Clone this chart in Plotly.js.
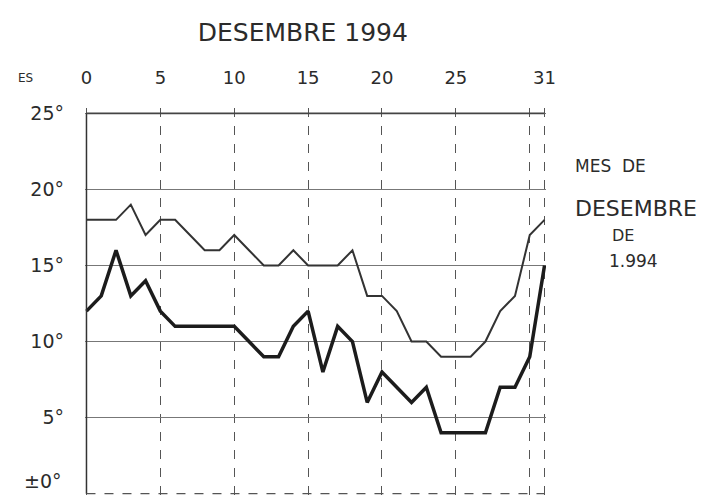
<!DOCTYPE html>
<html>
<head>
<meta charset="utf-8">
<script src="https://cdn.plot.ly/plotly-3.0.1.min.js"></script>
<style>html,body{margin:0;padding:0;background:#fff;}#chart{width:721px;height:498px;}</style>
</head>
<body>
<div id="chart"></div>
<script>
// Days of December 1994
const days = [0,1,2,3,4,5,6,7,8,9,10,11,12,13,14,15,16,17,18,19,20,21,22,23,24,25,26,27,28,29,30,31];
// Upper (thin) curve, degrees
const upperTemp = [18,18,18,19,17,18,18,17,16,16,17,16,15,15,16,15,15,15,16,13,13,12,10,10,9,9,9,10,12,13,17,18];
// Lower (thick) curve, degrees
const lowerTemp = [12,13,16,13,14,12,11,11,11,11,11,10,9,9,11,12,8,11,10,6,8,7,6,7,4,4,4,4,7,7,9,15];
// Axis ticks
const xTickVals = [0,5,10,15,20,25,30,31];
const xTickText = ['0','5','10','15','20','25','','31'];
const yTickVals = [5,10,15,20,25];
const yTickText = ['5°','10°','15°','20°','25°'];
const yZeroLabel = '±0°';

const fontFam = '"DejaVu Sans", sans-serif';
const ink = '#2b2b2b';

const traces = [
  {x: days, y: upperTemp, mode: 'lines', line: {color: '#333', width: 2}, hoverinfo: 'skip'},
  {x: days, y: lowerTemp, mode: 'lines', line: {color: '#1c1c1c', width: 3.5}, hoverinfo: 'skip'}
];

function ann(text, x, y, size, xanchor) {
  return {text: text, xref: 'paper', yref: 'paper', x: x, y: y, xanchor: xanchor || 'center',
          yanchor: 'middle', showarrow: false, font: {family: fontFam, size: size, color: ink}};
}

const layout = {
  width: 721, height: 498,
  margin: {l: 85, r: 175, t: 108, b: 2},
  paper_bgcolor: '#fff', plot_bgcolor: '#fff',
  showlegend: false,
  title: {text: 'DESEMBRE 1994', x: 0.42, xanchor: 'center', y: 0.935, yanchor: 'middle',
          font: {family: fontFam, size: 25, color: ink}},
  xaxis: {range: [-0.1, 31.1], side: 'top', tickmode: 'array', tickvals: xTickVals, ticktext: xTickText,
          showgrid: true, gridcolor: '#555', gridwidth: 1, griddash: 'dash',
          zeroline: false, showline: false, ticks: '', ticklabelstandoff: 19,
          tickfont: {family: fontFam, size: 18, color: ink}},
  yaxis: {range: [-0.15, 25.35], tickmode: 'array', tickvals: yTickVals, ticktext: yTickText,
          showgrid: true, gridcolor: '#777', gridwidth: 1,
          zeroline: false, showline: false,
          ticks: '', ticklabelstandoff: 20,
          tickfont: {family: fontFam, size: 19, color: ink}},
  shapes: [
    {type: 'line', layer: 'above', xref: 'x', yref: 'y', x0: 0, x1: 0, y0: 0, y1: 25, line: {color: '#333', width: 1.5}},
    {type: 'line', layer: 'above', xref: 'x', yref: 'y', x0: 0, x1: 31, y0: 25, y1: 25, line: {color: '#444', width: 1.6}},
    {type: 'line', layer: 'above', xref: 'x', yref: 'y', x0: 0, x1: 31, y0: 0, y1: 0, line: {color: '#555', width: 1.2, dash: 'dash'}}
  ],
  annotations: [
    ann('ES', -0.13, 1.077, 12),
    {text: yZeroLabel, xref: 'paper', yref: 'y', x: -0.045, y: 0, xanchor: 'right', yanchor: 'bottom',
     showarrow: false, font: {family: fontFam, size: 19, color: ink}},
    ann('MES  DE', 1.058, 0.85, 17, 'left'),
    ann('DESEMBRE', 1.058, 0.74, 22, 'left'),
    ann('DE', 1.167, 0.672, 16),
    ann('1.994', 1.19, 0.606, 17)
  ]
};

Plotly.newPlot('chart', traces, layout, {staticPlot: true, displayModeBar: false});
</script>
</body>
</html>
